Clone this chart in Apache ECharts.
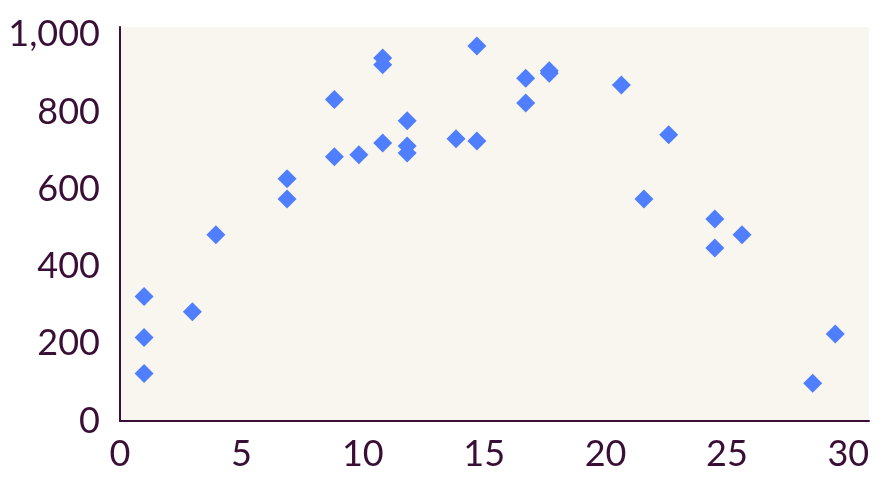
<!DOCTYPE html>
<html>
<head>
<meta charset="utf-8">
<script src="https://cdn.jsdelivr.net/npm/echarts@6/dist/echarts.min.js"></script>
<style>html,body{margin:0;padding:0;background:#fff}#c{width:894px;height:491px}</style>
</head>
<body>
<div id="c"></div>
<script>
var xValues = [0.99, 0.99, 0.99, 2.98, 3.95, 6.88, 6.88, 8.83, 8.83, 9.84, 10.82, 10.82, 10.82, 11.83, 11.83, 11.83, 13.84, 14.70, 14.70, 16.71, 16.71, 17.68, 17.68, 20.65, 21.58, 22.6, 24.5, 24.5, 25.62, 28.53, 29.46];
var yValues = [322, 216, 123, 283, 482, 627, 575, 832, 684, 689, 940, 922, 720, 777, 712, 694, 731, 725, 971, 887, 823, 907, 900, 870, 575, 741, 523, 448, 482, 98, 225];
var xTicks = [0, 5, 10, 15, 20, 25, 30];
var yTicks = [0, 200, 400, 600, 800, 1000];

var points = xValues.map(function (x, i) { return [x, yValues[i]]; });
var textColor = '#3a0f35';
var chart = echarts.init(document.getElementById('c'), null, { renderer: 'canvas' });
chart.setOption({
  animation: false,
  backgroundColor: '#ffffff',
  grid: { left: 120, right: 25, top: 27, bottom: 70, show: true, backgroundColor: '#f9f6f0', borderWidth: 0 },
  xAxis: {
    type: 'value', min: 0, max: 30.85, interval: 5,
    axisLine: { show: true, onZero: false, lineStyle: { color: textColor, width: 2 } },
    axisTick: { show: false },
    splitLine: { show: false },
    axisLabel: {
      color: textColor, fontFamily: 'Lato', fontSize: 36, margin: 15,
      showMaxLabel: true,
      formatter: function (v) { return xTicks.indexOf(v) >= 0 ? String(v) : ''; }
    }
  },
  yAxis: {
    type: 'value', min: 0, max: 1020, interval: 200,
    axisLine: { show: true, onZero: false, lineStyle: { color: textColor, width: 2 } },
    axisTick: { show: false },
    splitLine: { show: false },
    axisLabel: {
      color: textColor, fontFamily: 'Lato', fontSize: 36, margin: 20,
      formatter: function (v) { return yTicks.indexOf(v) >= 0 ? v.toLocaleString('en-US') : ''; }
    }
  },
  series: [{
    type: 'scatter',
    symbol: 'diamond',
    symbolSize: 19,
    itemStyle: { color: '#4f7fff', opacity: 1 },
    data: points
  }]
});
</script>
</body>
</html>
